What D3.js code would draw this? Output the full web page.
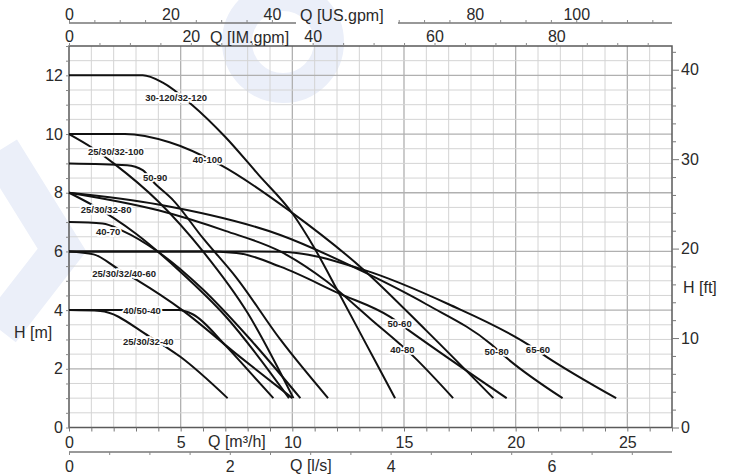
<!DOCTYPE html>
<html><head><meta charset="utf-8">
<script src="https://cdn.jsdelivr.net/npm/d3@7"></script>
<style>
body{margin:0;background:#fff;}
svg{display:block;font-family:"Liberation Sans",Arial,sans-serif;}
</style></head>
<body><svg id="c" width="732" height="475"></svg>
<script>
// ---- data ----
const qTicksM3h = [0,5,10,15,20,25];
const qTicksLs = [0,2,4,6];
const qTicksUS = [0,20,40,80,100];
const qTicksIM = [0,20,40,60,80];
const hTicksM = [0,2,4,6,8,10,12];
const hTicksFt = [0,10,20,30,40];

const curveNames = ["30-120/32-120","40-100","25/30/32-100","50-90","25/30/32-80","40-70","25/30/32/40-60","40/50-40","25/30/32-40","50-60","40-80","50-80","65-60"];
const c30_120 = [[0,12],[3.3,12],[4.2,11.75],[5.5,11.0],[7,9.9],[8.5,8.6],[10,7.3],[11,6.1],[12,4.7],[13.3,2.85],[14.6,1]];
const c40_100 = [[0,10],[2.5,10],[4.5,9.72],[6.8,8.94],[9.95,7.34],[13.2,5.37],[16,3.3],[19,1]];
const c25_100 = [[0,10],[1,9.55],[2,9.0],[4,7.7],[6,6.0],[8,3.9],[10.05,1]];
const c50_90 = [[0,9],[2.6,8.94],[3.3,8.77],[3.8,8.35],[4.66,7.75],[6,6.45],[7.5,5.1],[9.46,3.0],[11.6,1]];
const c25_80 = [[0,8],[1,7.6],[3,6.6],[5,5.3],[7,3.8],[9.85,1]];
const c40_70 = [[0,7],[1.5,6.95],[2.4,6.7],[4,5.98],[6,4.7],[8,3.1],[10.36,1]];
const c25_60 = [[0,6],[1.1,5.9],[2.2,5.4],[3.05,5.02],[5.07,4.0],[7.5,2.5],[10.0,1]];
const c40_40 = [[0,4],[4.9,4],[5.56,3.85],[7,2.8],[8.2,1.8],[9.15,1]];
const c25_40 = [[0,4],[1.4,3.97],[3.6,3.1],[5,2.4],[7.1,1]];
const c50_60 = [[0,6],[6,6],[7.5,5.95],[9.46,5.48],[12.06,4.58],[14.4,3.76],[15.2,3.32],[19.6,1]];
const c40_80 = [[0,8],[4,7.4],[7,6.7],[9.46,6.0],[11.5,5.0],[13.5,3.7],[15.4,2.44],[17.2,1]];
const c50_80 = [[0,8],[4,7.6],[9.46,6.56],[13.2,5.3],[16,4.2],[18.9,2.84],[19.55,2.4],[22.1,1]];
const c65_60 = [[0,6],[7,6],[9.46,5.99],[13.2,5.37],[17,4.2],[20.6,2.81],[21.4,2.4],[24.5,1]];
const curveData = [c30_120,c40_100,c25_100,c50_90,c25_80,c40_70,c25_60,c40_40,c25_40,c50_60,c40_80,c50_80,c65_60];
// label anchor (Q,H) per curve
const labelQ = [4.8,6.2,2.1,3.86,1.66,1.75,2.47,3.27,3.55,14.8,14.93,19.15,21.0];
const labelH = [11.2,9.1,9.38,8.5,7.4,6.66,5.23,3.94,2.88,3.52,2.64,2.57,2.64];

// ---- scales ----
const M3H_PER_LS = 3.6, M3H_PER_USGPM = 0.227125, M3H_PER_IMGPM = 0.272765, FT_PER_M = 3.28084;
const x = d3.scaleLinear().domain([0,27]).range([69,672]);
const y = d3.scaleLinear().domain([0,13]).range([427.5,46]);
const xLs = d3.scaleLinear().domain([0,27/M3H_PER_LS]).range([69,672]);
const xUS = d3.scaleLinear().domain([0,27/M3H_PER_USGPM]).range([69,672]);
const xIM = d3.scaleLinear().domain([0,27/M3H_PER_IMGPM]).range([69,672]);
const yFt = d3.scaleLinear().domain([0,13*FT_PER_M]).range([427.5,46]);

const svg = d3.select("#c");
const fs = 16, tfs = 16, txt = "#2a2a2a";

// faint background watermark
const wm = svg.append("g").attr("fill","none").attr("stroke","#ebeff9");
wm.append("circle").attr("cx",283).attr("cy",42).attr("r",46).attr("stroke-width",30);
wm.append("path").attr("d","M0,150 L62,250 L0,330").attr("stroke-width",40);

// grid
const g = svg.append("g");
d3.range(1,27).forEach(v=>{
  g.append("line").attr("x1",x(v)).attr("x2",x(v)).attr("y1",y(0)).attr("y2",y(13))
   .attr("stroke", v%5===0?"#b0b0b0":"#d4d4d4").attr("stroke-width", v%5===0?1.3:1);
});
d3.range(1,26).forEach(i=>{
  const v=i*0.5;
  g.append("line").attr("x1",x(0)).attr("x2",x(27)).attr("y1",y(v)).attr("y2",y(v))
   .attr("stroke", (v%2===0)?"#b0b0b0":"#d4d4d4").attr("stroke-width", (v%2===0)?1.3:1);
});
// frame
svg.append("rect").attr("x",x(0)).attr("y",y(13)).attr("width",x(27)-x(0)).attr("height",y(0)-y(13))
  .attr("fill","none").attr("stroke","#5a5a5a").attr("stroke-width",1.5);

// bottom m3/h axis
const axB = svg.append("g").attr("transform",`translate(0,${y(0)})`)
  .call(d3.axisBottom(x).tickValues(d3.range(0,28)).tickSize(4).tickFormat(d=>qTicksM3h.includes(d)?d:""));
axB.select(".domain").remove();
axB.selectAll("line").attr("stroke","#777");
axB.selectAll("text").attr("font-size",fs).attr("fill",txt).attr("dy","0.82em");
svg.append("text").attr("x",208).attr("y",447).attr("font-size",tfs).attr("fill",txt).text("Q [m³/h]");

// l/s axis
const axL = svg.append("g").attr("transform","translate(0,452)")
  .call(d3.axisBottom(xLs).tickValues(d3.range(0,7.5,0.5)).tickSize(3).tickFormat(d=>qTicksLs.includes(d)?d:""));
axL.select(".domain").attr("d",`M${x(0)},0H${x(27)}`).attr("stroke","#777").attr("stroke-width",1.5);
axL.selectAll("line").attr("stroke","#888");
axL.selectAll("text").attr("font-size",fs).attr("fill",txt).attr("dy","0.88em");
svg.append("text").attr("x",290).attr("y",471).attr("font-size",tfs).attr("fill",txt).text("Q [l/s]");

// top US gpm axis
const axU = svg.append("g").attr("transform","translate(0,23)")
  .call(d3.axisTop(xUS).tickValues(d3.range(0,119,5)).tickSize(3).tickFormat(d=>qTicksUS.includes(d)?d:""));
axU.select(".domain").attr("d",`M${x(0)},0H296M398,0H${x(27)}`).attr("stroke","#777").attr("stroke-width",1.5);
axU.selectAll(".tick").filter(d=>xUS(d)>296&&xUS(d)<398).remove();
axU.selectAll("line").attr("stroke","#888");
axU.selectAll("text").attr("font-size",fs).attr("fill",txt).attr("dy","0.2em");
svg.append("text").attr("x",300).attr("y",21).attr("font-size",tfs).attr("fill",txt).text("Q [US.gpm]");

// top IM gpm axis
const axI = svg.append("g").attr("transform",`translate(0,${y(13)})`)
  .call(d3.axisTop(xIM).tickValues(d3.range(0,99,5)).tickSize(3).tickFormat(d=>qTicksIM.includes(d)?d:""));
axI.select(".domain").remove();
axI.selectAll("line").attr("stroke","#888");
axI.selectAll("text").attr("font-size",fs).attr("fill",txt).attr("dy","0.15em");
svg.append("text").attr("x",210).attr("y",42.5).attr("font-size",tfs).attr("fill",txt).text("Q [IM.gpm]");

// left H [m] axis
const axLeft = svg.append("g").attr("transform",`translate(${x(0)},0)`)
  .call(d3.axisLeft(y).tickValues(d3.range(0,13.5,0.5)).tickSize(3).tickFormat(d=>hTicksM.includes(d)?d:""));
axLeft.select(".domain").remove();
axLeft.selectAll("line").attr("stroke","#888");
axLeft.selectAll("text").attr("font-size",fs).attr("fill",txt).attr("x",-6);
svg.append("text").attr("x",14).attr("y",338).attr("font-size",tfs).attr("fill",txt).text("H [m]");

// right H [ft] axis
const axR = svg.append("g").attr("transform",`translate(${x(27)},0)`)
  .call(d3.axisRight(yFt).tickValues(d3.range(0,43,2)).tickSize(4).tickFormat(d=>hTicksFt.includes(d)?d:""));
axR.select(".domain").remove();
axR.selectAll(".tick line").attr("stroke","#777").attr("x2",d=>d%10===0?7:4);
axR.selectAll("text").attr("font-size",fs).attr("fill",txt).attr("x",9);
svg.append("text").attr("x",683).attr("y",293).attr("font-size",tfs).attr("fill",txt).text("H [ft]");

// curves
const line = d3.line().x(d=>x(d[0])).y(d=>y(d[1])).curve(d3.curveMonotoneX);
const cg = svg.append("g");
curveData.forEach(c=>{
  cg.append("path").attr("d",line(c)).attr("fill","none").attr("stroke","#111").attr("stroke-width",2);
});
const lg = svg.append("g");
curveNames.forEach((n,i)=>{
  lg.append("text").attr("x",x(labelQ[i])).attr("y",y(labelH[i])).attr("text-anchor","middle")
    .attr("dominant-baseline","middle").attr("font-size",9.5).attr("font-weight","bold").attr("fill","#222")
    .attr("stroke","#fff").attr("stroke-width",3.5).attr("paint-order","stroke").text(n);
});
</script></body></html>
